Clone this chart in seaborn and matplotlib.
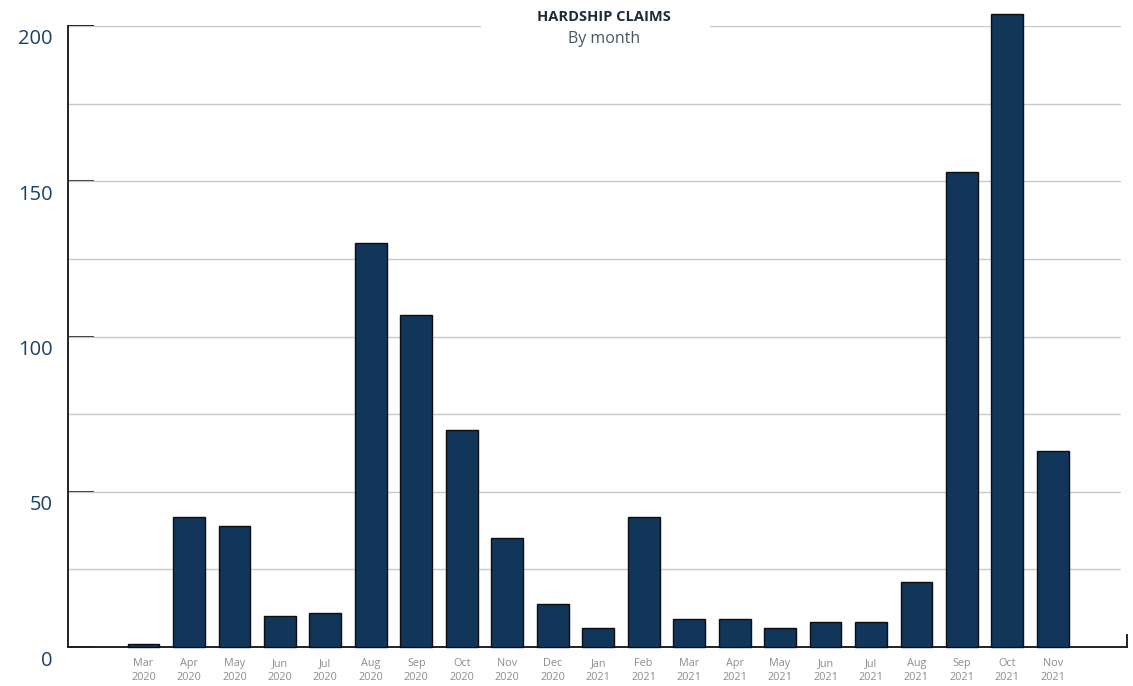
import numpy as np
import pandas as pd
import seaborn as sns
import matplotlib
matplotlib.use("Agg")
from matplotlib import pyplot as plt
from matplotlib.patches import Rectangle
from matplotlib import transforms

months = ["Mar", "Apr", "May", "Jun", "Jul", "Aug", "Sep", "Oct", "Nov", "Dec",
          "Jan", "Feb", "Mar", "Apr", "May", "Jun", "Jul", "Aug", "Sep", "Oct", "Nov"]
years = ["2020"] * 10 + ["2021"] * 11
claims = [1, 42, 39, 10, 11, 130, 107, 70, 35, 14,
          6, 42, 9, 9, 6, 8, 8, 21, 153, 204, 63]
y_ticks = [0, 50, 100, 150, 200]

sns.set_theme(style="white")
plt.rcParams['font.family'] = ['Open Sans', 'DejaVu Sans']

df = pd.DataFrame({"month": [f"{m}\n{y}" for m, y in zip(months, years)], "claims": claims})

W, H = 1133, 686
fig = plt.figure(figsize=(W / 100, H / 100), dpi=100)
ax = fig.add_axes([68 / W, (H - 647) / H, (1127 - 68) / W, (647 - 26) / H])

sns.barplot(data=df, x="month", y="claims", color="#12365A", saturation=1,
            width=0.7, edgecolor="#0b0f14", linewidth=1, ax=ax, zorder=3)
for p in ax.patches:
    p.set_clip_on(False)

ax.set_xlim(-1.66, 21.63)
ax.set_ylim(0, 200)

# gridlines every 25
grid_end = (1120 - 68) / (1127 - 68)
for v in range(25, 201, 25):
    ax.axhline(v, xmin=0, xmax=grid_end, color="#c9c9c9", lw=1, zorder=1)

ax.spines["top"].set_visible(False)
for s in ["left", "bottom", "right"]:
    ax.spines[s].set_color("#222222")
    ax.spines[s].set_linewidth(1.4)
ax.spines["right"].set_bounds(0, 4)

ax.set_yticks(y_ticks)
ax.set_yticklabels([str(v) for v in y_ticks])
ax.tick_params(axis="y", direction="in", length=19, width=1.4, color="#222222",
               labelsize=14.5, labelcolor="#1d4166", pad=11, left=True)
off = transforms.ScaledTranslation(0, -11 / 100, fig.dpi_scale_trans)
for lab in ax.get_yticklabels():
    lab.set_transform(lab.get_transform() + off)

ax.tick_params(axis="x", length=0, labelsize=7.8, labelcolor="#8c8c8c", pad=8)
for lab in ax.get_xticklabels():
    lab.set_linespacing(1.4)
ax.set_xlabel("")
ax.set_ylabel("")

# title with white box covering the top gridline
fig.patches.append(Rectangle((481 / W, (H - 60) / H), (710 - 481) / W, 60 / H,
                             transform=fig.transFigure, facecolor="white",
                             edgecolor="none", zorder=5))
fig.text(604 / W, 1 - 17 / H, "HARDSHIP CLAIMS", ha="center", va="center",
         fontsize=10.5, fontweight="bold", color="#1c2b3a", zorder=6)
fig.text(604 / W, 1 - 39 / H, "By month", ha="center", va="center",
         fontsize=11.5, color="#4a5562", zorder=6)

fig.savefig("out.png", dpi=100)
